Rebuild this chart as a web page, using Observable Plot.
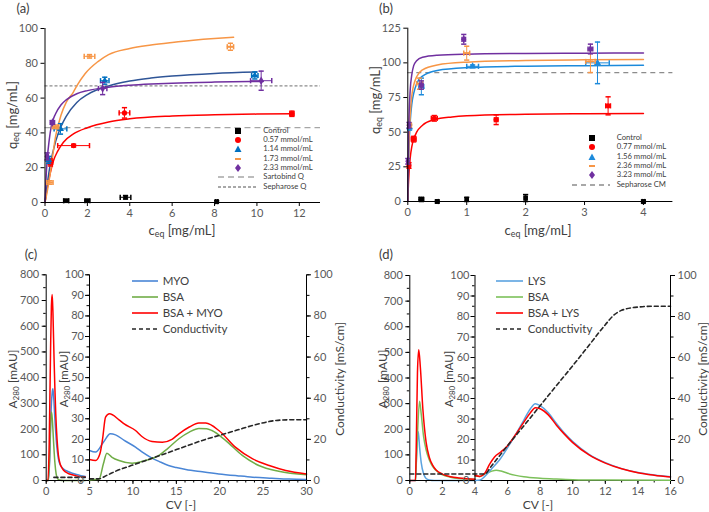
<!DOCTYPE html>
<html><head><meta charset="utf-8">
<script src="https://cdn.jsdelivr.net/npm/d3@7"></script>
<script src="https://cdn.jsdelivr.net/npm/@observablehq/plot@0.6"></script>
<style>
body{margin:0;background:#fff;}
#root{position:relative;width:709px;height:512px;overflow:hidden;font-family:Lato,"Open Sans",sans-serif;color:#404040;background:#fff;}
.pl{position:absolute;}
.lbl{position:absolute;white-space:nowrap;color:#404040;line-height:1;}
.ctr{transform:translate(-50%,-50%);}
.rot{transform:translate(-50%,-50%) rotate(-90deg);}
.lbl sub{font-size:0.68em;vertical-align:-0.25em;line-height:0;}
.leg{position:absolute;white-space:nowrap;color:#404040;transform:translateY(-50%);line-height:1;}
</style>
</head><body>
<div id="root"></div>
<script>
// ================= DATA =================
// ---- Panel (a) ----
const aNames = ["Control", "0.57 mmol/mL", "1.14 mmol/mL", "1.73 mmol/mL", "2.33 mmol/mL"];
const aPtX = [
  [1.0, 2.0, 3.8, 8.1],
  [0.26, 1.35, 3.75, 11.65],
  [0.17, 0.73, 2.82, 9.9],
  [0.23, 0.5, 2.1, 8.75],
  [0.1, 0.35, 2.72, 10.2]
];
const aPtY = [
  [1, 1, 3, 0.5],
  [23, 32.7, 51.5, 51],
  [24.5, 42.3, 70, 73],
  [11.5, 43.5, 84, 89.5],
  [26.5, 46, 65.5, 70]
];
const aErrX = [
  [0.12, 0.12, 0.25, 0.05],
  [0.1, 0.75, 0.25, 0.1],
  [0.05, 0.3, 0.2, 0.15],
  [0.15, 0.15, 0.25, 0.15],
  [0.05, 0.1, 0.2, 0.5]
];
const aErrY = [
  [0.8, 0.8, 1, 0.5],
  [2, 0.8, 3, 1.5],
  [2, 3, 2, 2],
  [1, 1, 1, 2],
  [2, 1, 3.5, 5.5]
];
// fitted isotherms for series 1..4
const aFitC = [
  [0, 0.1, 0.25, 0.4, 0.6, 0.87, 1.34, 2, 3, 4, 6, 8, 10, 11.7],
  [0, 0.1, 0.25, 0.5, 0.75, 1, 1.5, 2, 3, 4, 5, 6, 8, 10],
  [0, 0.1, 0.25, 0.5, 0.75, 1, 1.34, 1.5, 1.89, 2.5, 3, 4, 5, 6, 7, 8, 8.9],
  [0, 0.05, 0.1, 0.2, 0.3, 0.5, 0.75, 1, 1.5, 2, 3, 4, 5, 6, 8, 10.3]
];
const aFitQ = [
  [0, 8, 17, 24, 29.5, 34.6, 39.4, 43, 46.3, 48.1, 49.7, 50.4, 50.8, 51],
  [0, 10, 22, 35, 43.5, 49.5, 57.5, 62, 67, 69.8, 71.5, 72.7, 74.2, 75],
  [0, 6, 17, 38, 50, 57.5, 63.5, 67, 74, 81, 85, 88.5, 90.5, 92, 93.3, 94.3, 95],
  [0, 14, 24, 36, 44, 51, 56, 59, 62.5, 64.3, 66.3, 67.4, 68.1, 68.6, 69.2, 69.6]
];
const aRefNames = ["Sartobind Q", "Sepharose Q"];
const aRefQ = [43, 67];
const aTicksX = [0, 2, 4, 6, 8, 10, 12];
const aTicksY = [0, 20, 40, 60, 80, 100];

// ---- Panel (b) ----
const bNames = ["Control", "0.77 mmol/mL", "1.56 mmol/mL", "2.36 mmol/mL", "3.23 mmol/mL"];
const bPtX = [
  [0.23, 0.5, 1.0, 2.0, 4.0],
  [0.02, 0.1, 0.45, 1.5, 3.4],
  [0.03, 0.23, 1.1, 3.22],
  [0.03, 0.2, 1.0, 3.1],
  [0.0, 0.02, 0.23, 0.95, 3.1]
];
const bPtY = [
  [1.5, 0, 1.5, 2.5, 0],
  [26, 45, 60, 59, 69],
  [53.5, 83, 97.5, 100],
  [55, 85, 107, 101],
  [29, 55, 84, 117, 110]
];
const bErrX = [
  [0.04, 0.02, 0.02, 0.02, 0.02],
  [0.02, 0.04, 0.05, 0.03, 0.04],
  [0.02, 0.04, 0.1, 0.2],
  [0.02, 0.05, 0.05, 0.08],
  [0.01, 0.01, 0.03, 0.03, 0.04]
];
const bErrY = [
  [1.5, 1, 1.5, 2.5, 1],
  [2, 2, 2, 3.5, 6.5],
  [2, 6, 1, 15],
  [1.5, 4, 5, 8],
  [2, 2, 3, 3.5, 3.5]
];
const bFitC = [
  [0, 0.01, 0.02, 0.04, 0.07, 0.1, 0.15, 0.25, 0.45, 0.75, 1, 2, 3, 4],
  [0, 0.01, 0.02, 0.04, 0.07, 0.1, 0.15, 0.25, 0.5, 1, 2, 3, 4],
  [0, 0.01, 0.02, 0.04, 0.07, 0.1, 0.15, 0.25, 0.5, 1, 2, 3, 4],
  [0, 0.01, 0.02, 0.04, 0.07, 0.1, 0.15, 0.25, 0.5, 1, 2, 3, 4]
];
const bFitQ = [
  [0, 12, 20, 31, 40, 45, 50, 55, 59, 61, 61.8, 62.9, 63.3, 63.5],
  [0, 22, 38, 57, 71, 78, 85, 90.5, 94.5, 96.5, 97.6, 98, 98.3],
  [0, 25, 42, 62, 77, 84, 90, 95, 98.5, 100.5, 101.7, 102.2, 102.5],
  [0, 40, 60, 80, 92, 98, 101.5, 104, 105.5, 106.3, 106.8, 107, 107.2]
];
const bRefNames = ["Sepharose CM"];
const bRefQ = [93];
const bTicksX = [0, 1, 2, 3, 4];
const bTicksY = [0, 25, 50, 75, 100, 125];

// ---- Panel (c) ----
const cNames = ["MYO", "BSA", "BSA + MYO", "Conductivity"];
// first peak region (0-800 mAU scale)
const cMyoLX = [0, 0.25, 0.4, 0.55, 0.7, 0.77, 0.85, 1.0, 1.2, 1.4, 1.6, 2.0, 2.5, 3, 3.5, 4, 4.5];
const cMyoLY = [0, 0, 80, 260, 345, 357, 330, 240, 140, 85, 62, 45, 35, 28, 23, 19, 16];
const cBsaLX = [0, 0.25, 0.4, 0.5, 0.61, 0.7, 0.85, 1.0, 1.15, 1.3, 1.5, 2, 3, 4.5];
const cBsaLY = [0, 0, 100, 220, 266, 240, 150, 70, 25, 8, 2, 0, 0, 0];
const cMixLX = [0, 0.2, 0.35, 0.5, 0.6, 0.69, 0.78, 0.9, 1.0, 1.1, 1.25, 1.4, 1.6, 1.8, 2.0, 2.5, 3, 3.5, 4, 4.5];
const cMixLY = [0, 0, 150, 500, 680, 723, 650, 480, 360, 260, 160, 100, 65, 50, 40, 28, 22, 18, 15, 13];
// elution region (0-100 mAU scale)
const cMyoRX = [5, 5.7, 6.6, 7.4, 8, 9, 10.3, 11, 12.2, 13, 14.1, 15, 16.1, 18, 19.9, 22, 23.8, 26, 28, 30];
const cMyoRY = [14.6, 13.8, 18.6, 22.7, 22.2, 19.5, 16.2, 14, 10.9, 9.3, 7.3, 6.3, 5.3, 4.2, 3.2, 2.3, 1.6, 1.1, 0.7, 0.5];
const cBsaRX = [5, 6.1, 6.6, 7.0, 7.6, 8.4, 9.9, 11.4, 13, 14, 15.3, 16.5, 17.6, 18.5, 19.1, 20.7, 22.6, 24.5, 26.8, 30];
const cBsaRY = [0.3, 0.6, 8.1, 13.3, 11.3, 9.7, 8.4, 9.7, 12.2, 15.5, 20.3, 23.5, 25.3, 25.2, 24.3, 19.4, 12.2, 7.3, 4.5, 2.8];
const cMixRX = [5, 5.7, 6.2, 6.5, 6.85, 7.3, 8.4, 9, 10.3, 11, 12.2, 13.4, 14.5, 15.3, 16.5, 17.6, 18.4, 19.9, 21.8, 23.8, 25.7, 27.6, 30];
const cMixRY = [10.2, 9.7, 13, 20, 30.8, 32.4, 29.5, 27.5, 24.3, 21.5, 19, 18.6, 20, 22.7, 26, 28, 27.9, 24.3, 16.2, 10.5, 7.3, 4.9, 3.2];
// conductivity (mS/cm)
const cCondLX = [0.9, 4.5];
const cCondLY = [1.5, 1.5];
const cCondRX = [5, 6, 7, 8, 10, 12, 14, 16, 18, 20, 22, 24, 25.5, 26.5, 28, 30];
const cCondRY = [0.8, 0.8, 2.5, 4.5, 7.5, 10.5, 13.5, 16.5, 19.5, 22, 24.5, 27, 28.5, 29.2, 29.5, 29.5];
const cTicksX = [0, 5, 10, 15, 20, 25, 30];
const cTicksYL = [0, 100, 200, 300, 400, 500, 600, 700, 800];
const cTicksYI = [0, 10, 20, 30, 40, 50, 60, 70, 80, 90, 100];
const cTicksYR = [0, 20, 40, 60, 80, 100];

// ---- Panel (d) ----
const dNames = ["LYS", "BSA", "BSA + LYS", "Conductivity"];
const dLysLX = [0, 0.35, 0.42, 0.52, 0.6, 0.7, 0.85, 1.0, 1.2, 1.5, 4];
const dLysLY = [0, 0, 100, 190, 130, 70, 25, 8, 2, 0, 0];
const dBsaLX = [0.35, 0.45, 0.6, 0.7, 0.85, 1.0, 1.2, 1.4, 1.6, 2, 2.5, 3, 4];
const dBsaLY = [0, 150, 309, 260, 170, 120, 80, 55, 40, 22, 13, 8, 4];
const dMixLX = [0, 0.35, 0.4, 0.47, 0.55, 0.65, 0.8, 1.0, 1.2, 1.4, 1.6, 2, 2.5, 3, 3.5, 4];
const dMixLY = [0, 0, 150, 420, 510, 440, 280, 150, 90, 60, 42, 25, 15, 10, 7, 5];
const dLysRX = [4, 4.3, 4.6, 5, 5.5, 6, 6.5, 7, 7.4, 7.7, 8, 8.5, 9, 9.5, 10, 11, 12, 13, 14, 15, 16];
const dLysRY = [0, 0.2, 2, 5.5, 10, 16, 22.5, 29.5, 35, 37.5, 36.5, 33, 27.8, 23, 19, 12.8, 8.7, 5.8, 3.9, 2.7, 1.8];
const dBsaRX = [4, 4.3, 4.6, 5, 5.3, 5.6, 6, 6.5, 7, 8, 9, 10, 12, 16];
const dBsaRY = [2.2, 2, 3.2, 4.5, 5, 4.6, 3.5, 2.5, 1.8, 1.1, 0.7, 0.4, 0.2, 0.1];
const dMixRX = [4, 4.3, 4.6, 4.9, 5.2, 5.6, 6, 6.5, 7, 7.4, 7.7, 8, 8.5, 9, 9.5, 10, 11, 12, 13, 14, 15, 16];
const dMixRY = [2.4, 2, 3.5, 8, 11.5, 14, 17, 22.5, 28.5, 33, 35.5, 35, 32, 27, 22.5, 18.5, 12.5, 8.5, 5.7, 3.8, 2.6, 1.7];
const dCondX = [0, 4.6, 5, 6, 7, 8, 9, 10, 11, 12, 12.5, 13, 14, 15, 16];
const dCondY = [3.2, 3.2, 7, 17, 26.7, 36.5, 46.3, 56, 66, 76, 80.5, 83, 84.6, 85, 85];
const dTicksX = [0, 2, 4, 6, 8, 10, 12, 14, 16];

// ================= STYLE / LAYOUT =================
const FONT = "Lato, 'Open Sans', sans-serif";
const aColors = ["#000000", "#FF0000", "#0070C0", "#F79646", "#7030A0"];
const aFitColors = ["#FF0000", "#2F5597", "#F79646", "#7030A0"];
const bColors = ["#000000", "#FF0000", "#1C8ADB", "#F79646", "#7030A0"];
const bFitColors = ["#FF0000", "#1C8ADB", "#F79646", "#7030A0"];
const cColors = ["#4A86D6", "#70AD47", "#FF0000", "#262626"];
const dColors = ["#5BA3E0", "#7CC05A", "#FF0000", "#262626"];
const hBar = {draw(ctx, size) { const r = Math.sqrt(size / Math.PI); ctx.moveTo(-r, 0); ctx.lineTo(r, 0); }};
const vBar = {draw(ctx, size) { const r = Math.sqrt(size / Math.PI); ctx.moveTo(0, -r); ctx.lineTo(0, r); }};
const ptSyms = ["square", "circle", "triangle", hBar, "diamond"];
const intFmt = d => String(d);

const root = document.getElementById("root");
const rows = (xs, ys) => xs.map((x, i) => ({x, y: ys[i]}));
function mk(opts) {
  return Plot.plot(Object.assign({
    style: {background: "transparent", overflow: "visible", fontFamily: FONT, fontSize: "11px", color: "#595959"}
  }, opts));
}
function place(el, left, top) {
  const d = document.createElement("div");
  d.className = "pl"; d.style.left = left + "px"; d.style.top = top + "px";
  d.appendChild(el); root.appendChild(d);
}
function label(html, x, y, size, cls) {
  const d = document.createElement("div");
  d.className = "lbl " + cls; d.innerHTML = html;
  d.style.left = x + "px"; d.style.top = y + "px"; d.style.fontSize = size + "px";
  root.appendChild(d);
}
function scatterMarks(ptX, ptY, errX, errY, colors) {
  const marks = [];
  ptX.forEach((xs, s) => {
    const rs = xs.map((x, i) => ({x, y: ptY[s][i], xe: errX[s][i], ye: errY[s][i]}));
    const c = colors[s];
    marks.push(Plot.ruleY(rs, {y: "y", x1: d => d.x - d.xe, x2: d => d.x + d.xe, stroke: c, strokeWidth: 1}));
    marks.push(Plot.ruleX(rs, {x: "x", y1: d => d.y - d.ye, y2: d => d.y + d.ye, stroke: c, strokeWidth: 1}));
    marks.push(Plot.dot(rs, {x: d => d.x - d.xe, y: "y", symbol: vBar, r: 2.6, stroke: c, fill: "none"}));
    marks.push(Plot.dot(rs, {x: d => d.x + d.xe, y: "y", symbol: vBar, r: 2.6, stroke: c, fill: "none"}));
    marks.push(Plot.dot(rs, {x: "x", y: d => d.y - d.ye, symbol: hBar, r: 2.6, stroke: c, fill: "none"}));
    marks.push(Plot.dot(rs, {x: "x", y: d => d.y + d.ye, symbol: hBar, r: 2.6, stroke: c, fill: "none"}));
    if (ptSyms[s] === hBar) {
      marks.push(Plot.dot(rs, {x: "x", y: "y", symbol: hBar, r: 2.8, stroke: c, strokeWidth: 2, fill: "none"}));
    } else {
      marks.push(Plot.dot(rs, {x: "x", y: "y", symbol: ptSyms[s], r: 2.6, fill: c, stroke: "none"}));
    }
  });
  return marks;
}
const axisStyle = {label: null, stroke: "#000", tickSize: 4, tickPadding: 3, tickFormat: intFmt};
const innerAxis = {label: null, stroke: "#000", tickSize: 4, tickPadding: 1.5, tickFormat: intFmt};

// ---------- Panel (a) ----------
place(mk({
  width: 355, height: 240,
  marginLeft: 44.5, marginRight: 35, marginTop: 28, marginBottom: 38,
  x: {domain: [0, 13], label: null},
  y: {domain: [0, 100], label: null},
  marks: [
    ...aRefQ.map((q, i) => Plot.ruleY([q], {stroke: i === 0 ? "#A6A6A6" : "#8C8C8C", strokeWidth: 1.3, strokeDasharray: i === 0 ? "6,4" : "3,2"})),
    ...aFitC.map((cs, s) => Plot.line(rows(cs, aFitQ[s]), {x: "x", y: "y", stroke: aFitColors[s], strokeWidth: 1.5, curve: "monotone-x"})),
    ...scatterMarks(aPtX, aPtY, aErrX, aErrY, aColors),
    Plot.ruleX([0], {stroke: "#000"}),
    Plot.ruleY([0], {stroke: "#000"}),
    Plot.axisX({...axisStyle, ticks: aTicksX}),
    Plot.axisY({...axisStyle, ticks: aTicksY})
  ]
}), 0, 0);

// ---------- Panel (b) ----------
place(mk({
  width: 354, height: 240,
  marginLeft: 52.3, marginRight: 36.6, marginTop: 27.7, marginBottom: 39,
  x: {domain: [0, 4.5], label: null},
  y: {domain: [0, 125], label: null},
  marks: [
    ...bRefQ.map(q => Plot.ruleY([q], {stroke: "#8C8C8C", strokeWidth: 1.3, strokeDasharray: "5,4"})),
    ...bFitC.map((cs, s) => Plot.line(rows(cs, bFitQ[s]), {x: "x", y: "y", stroke: bFitColors[s], strokeWidth: 1.5, curve: "monotone-x"})),
    ...scatterMarks(bPtX, bPtY, bErrX, bErrY, bColors),
    Plot.ruleX([0], {stroke: "#000"}),
    Plot.ruleY([0], {stroke: "#000"}),
    Plot.axisX({...axisStyle, ticks: bTicksX}),
    Plot.axisY({...axisStyle, ticks: bTicksY})
  ]
}), 355, 0);

// ---------- Panel (c) ----------
const lineOpt = (c) => ({x: "x", y: "y", stroke: c, strokeWidth: 1.5, curve: "monotone-x"});
const condOpt = (c) => ({x: "x", y: "y", stroke: c, strokeWidth: 1.6, strokeDasharray: "4,3"});
place(mk({
  width: 355, height: 272,
  marginLeft: 45.7, marginRight: 49, marginTop: 34.3, marginBottom: 32,
  x: {domain: [0, 30], label: null},
  y: {domain: [0, 800], label: null},
  marks: [
    Plot.line(rows(cMyoLX, cMyoLY), lineOpt(cColors[0])),
    Plot.line(rows(cBsaLX, cBsaLY), lineOpt(cColors[1])),
    Plot.line(rows(cMixLX, cMixLY), lineOpt(cColors[2])),
    Plot.ruleX([0], {stroke: "#000"}),
    Plot.ruleY([0], {stroke: "#000"}),
    Plot.axisX({...axisStyle, ticks: cTicksX}),
    Plot.axisX({label: null, stroke: "#000", tickSize: 2.5, fill: "none", ticks: d3.range(0, 31, 1)}),
    Plot.axisY({...axisStyle, ticks: cTicksYL}),
    Plot.axisY({label: null, stroke: "#000", tickSize: 2.5, fill: "none", ticks: d3.range(0, 801, 50)})
  ]
}), 0, 240);
place(mk({
  width: 355, height: 272,
  marginLeft: 89, marginRight: 49, marginTop: 34.3, marginBottom: 32,
  x: {domain: [5, 30], label: null, axis: null},
  y: {domain: [0, 100], label: null},
  marks: [
    Plot.line(rows(cMyoRX, cMyoRY), lineOpt(cColors[0])),
    Plot.line(rows(cBsaRX, cBsaRY), lineOpt(cColors[1])),
    Plot.line(rows(cMixRX, cMixRY), lineOpt(cColors[2])),
    Plot.line(rows(cCondLX, cCondLY), condOpt(cColors[3])),
    Plot.line(rows(cCondRX, cCondRY), {...condOpt(cColors[3]), curve: "monotone-x"}),
    Plot.ruleX([5], {stroke: "#000"}),
    Plot.ruleX([30], {stroke: "#000"}),
    Plot.axisY({...innerAxis, anchor: "left", ticks: cTicksYI}),
    Plot.axisY({label: null, stroke: "#000", anchor: "left", tickSize: 2.5, fill: "none", ticks: d3.range(0, 101, 5)}),
    Plot.axisY({...axisStyle, anchor: "right", ticks: cTicksYR}),
    Plot.axisY({label: null, stroke: "#000", anchor: "right", tickSize: 2.5, fill: "none", ticks: d3.range(0, 101, 10)})
  ]
}), 0, 240);

// ---------- Panel (d) ----------
place(mk({
  width: 354, height: 272,
  marginLeft: 54.3, marginRight: 39, marginTop: 35, marginBottom: 32,
  x: {domain: [0, 16], label: null},
  y: {domain: [0, 800], label: null},
  marks: [
    Plot.line(rows(dLysLX, dLysLY), lineOpt(dColors[0])),
    Plot.line(rows(dBsaLX, dBsaLY), lineOpt(dColors[1])),
    Plot.line(rows(dMixLX, dMixLY), lineOpt(dColors[2])),
    Plot.ruleX([0], {stroke: "#000"}),
    Plot.ruleY([0], {stroke: "#000"}),
    Plot.axisX({...axisStyle, ticks: dTicksX}),
    Plot.axisX({label: null, stroke: "#000", tickSize: 2.5, fill: "none", ticks: d3.range(0, 17, 1)}),
    Plot.axisY({...axisStyle, ticks: cTicksYL}),
    Plot.axisY({label: null, stroke: "#000", tickSize: 2.5, fill: "none", ticks: d3.range(0, 801, 50)})
  ]
}), 355, 240);
place(mk({
  width: 354, height: 272,
  marginLeft: 119.5, marginRight: 39, marginTop: 35, marginBottom: 32,
  x: {domain: [4, 16], label: null, axis: null},
  y: {domain: [0, 100], label: null},
  marks: [
    Plot.line(rows(dBsaRX, dBsaRY), lineOpt(dColors[1])),
    Plot.line(rows(dLysRX, dLysRY), lineOpt(dColors[0])),
    Plot.line(rows(dMixRX, dMixRY), lineOpt(dColors[2])),
    Plot.line(rows(dCondX, dCondY), {...condOpt(dColors[3]), curve: "monotone-x"}),
    Plot.ruleX([4], {stroke: "#000"}),
    Plot.ruleX([16], {stroke: "#000"}),
    Plot.axisY({...innerAxis, anchor: "left", ticks: cTicksYI}),
    Plot.axisY({label: null, stroke: "#000", anchor: "left", tickSize: 2.5, fill: "none", ticks: d3.range(0, 101, 5)}),
    Plot.axisY({...axisStyle, anchor: "right", ticks: cTicksYR}),
    Plot.axisY({label: null, stroke: "#000", anchor: "right", tickSize: 2.5, fill: "none", ticks: d3.range(0, 101, 10)})
  ]
}), 355, 240);

// ---------- Labels ----------
label("(a)", 23, 8, 13, "ctr");
label("(b)", 386, 8, 13, "ctr");
label("(c)", 31, 254, 13, "ctr");
label("(d)", 386, 254, 13, "ctr");
label("q<sub>eq</sub> [mg/mL]", 12, 115, 13, "rot");
label("q<sub>eq</sub> [mg/mL]", 375, 100, 13, "rot");
label("c<sub>eq</sub> [mg/mL]", 182, 230, 13, "ctr");
label("c<sub>eq</sub> [mg/mL]", 538, 230, 13, "ctr");
label("A<sub>280</sub> [mAU]", 13, 379, 12, "rot");
label("A<sub>280</sub> [mAU]", 64, 379, 11.5, "rot");
label("Conductivity [mS/cm]", 340, 379, 12, "rot");
label("A<sub>280</sub> [mAU]", 383, 379, 12, "rot");
label("A<sub>280</sub> [mAU]", 449, 379, 11.5, "rot");
label("Conductivity [mS/cm]", 703, 379, 12, "rot");
label("CV [-]", 181, 505, 12, "ctr");
label("CV [-]", 538, 505, 12, "ctr");

// ---------- Legends ----------
function symSvg(kind, color) {
  let inner = "";
  if (kind === "square") inner = `<rect x="2" y="2" width="6" height="6" fill="${color}"/>`;
  else if (kind === "circle") inner = `<circle cx="5" cy="5" r="3" fill="${color}"/>`;
  else if (kind === "triangle") inner = `<path d="M5,1.5 L8.5,8 L1.5,8 Z" fill="${color}"/>`;
  else if (kind === "diamond") inner = `<path d="M5,1 L8,5 L5,9 L2,5 Z" fill="${color}"/>`;
  else inner = `<line x1="2" y1="5" x2="8" y2="5" stroke="${color}" stroke-width="2"/>`;
  return `<svg width="10" height="10" style="display:block">${inner}</svg>`;
}
const LEGFS = "7.7px";
function legendScatter(names, colors, refNames, refDash, refColor, ys, refYs, mx, tx, dx1, dx2) {
  names.forEach((n, i) => {
    const s = document.createElement("div");
    s.className = "pl"; s.style.left = (mx - 5) + "px"; s.style.top = (ys[i] - 5) + "px";
    s.innerHTML = symSvg(typeof ptSyms[i] === "string" ? ptSyms[i] : "dash", colors[i]);
    root.appendChild(s);
    const t = document.createElement("div");
    t.className = "leg"; t.style.left = tx + "px"; t.style.top = ys[i] + "px"; t.style.fontSize = LEGFS;
    t.textContent = n; root.appendChild(t);
  });
  refNames.forEach((n, i) => {
    const s = document.createElement("div");
    s.className = "pl"; s.style.left = dx1 + "px"; s.style.top = (refYs[i] - 3) + "px";
    s.innerHTML = `<svg width="${dx2 - dx1}" height="6" style="display:block"><line x1="0" y1="3" x2="${dx2 - dx1}" y2="3" stroke="${refColor[i]}" stroke-width="1.3" stroke-dasharray="${refDash[i]}"/></svg>`;
    root.appendChild(s);
    const t = document.createElement("div");
    t.className = "leg"; t.style.left = tx + "px"; t.style.top = refYs[i] + "px"; t.style.fontSize = LEGFS;
    t.textContent = n; root.appendChild(t);
  });
}
legendScatter(aNames, aColors, aRefNames, ["6,4", "3,2"], ["#A6A6A6", "#8C8C8C"], [130.7, 140, 149.3, 158.7, 168], [177.3, 187], 238.3, 263.3, 218, 258);
legendScatter(bNames, bColors, bRefNames, ["5,4"], ["#8C8C8C"], [137.7, 147.3, 156.7, 165.7, 175.3], [185], 591.7, 616.7, 571.7, 610);

function legendLines(names, colors, ys, x1, x2, tx) {
  names.forEach((n, i) => {
    const s = document.createElement("div");
    const dash = i === names.length - 1 ? 'stroke-dasharray="4,3"' : "";
    s.className = "pl"; s.style.left = x1 + "px"; s.style.top = (ys[i] - 3) + "px";
    s.innerHTML = `<svg width="${x2 - x1}" height="6" style="display:block"><line x1="0" y1="3" x2="${x2 - x1}" y2="3" stroke="${colors[i]}" stroke-width="1.6" ${dash}/></svg>`;
    root.appendChild(s);
    const t = document.createElement("div");
    t.className = "leg"; t.style.left = tx + "px"; t.style.top = ys[i] + "px"; t.style.fontSize = "11.5px";
    t.textContent = n; root.appendChild(t);
  });
}
legendLines(cNames, cColors, [281, 297.3, 313.3, 328.7], 131.7, 158, 162.7);
legendLines(dNames, dColors, [281, 297.3, 313.3, 328.7], 496, 523.3, 527.7);
</script>
</body></html>
